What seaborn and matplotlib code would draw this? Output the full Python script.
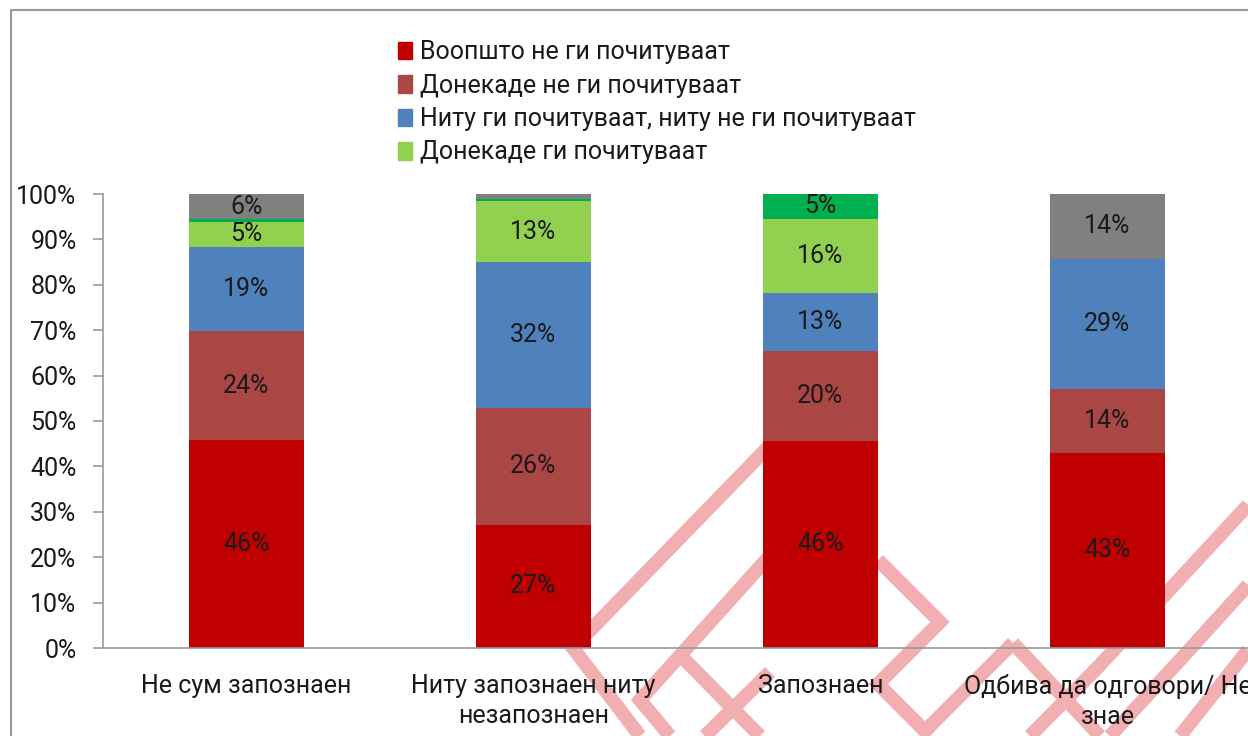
import numpy as np
import pandas as pd
import seaborn as sns
import matplotlib.pyplot as plt
from matplotlib.lines import Line2D

categories = ["Не сум запознаен", "Ниту запознаен ниту\nнезапознаен", "Запознаен", "Одбива да одговори/ Не\nзнае"]
series_names = [
    "Воопшто не ги почитуваат",
    "Донекаде не ги почитуваат",
    "Ниту ги почитуваат, ниту не ги почитуваат",
    "Донекаде ги почитуваат",
    "Целосно ги почитуваат",
    "Не знае",
]
colors = ["#C00000", "#AA4644", "#4F81BD", "#92D050", "#00B050", "#808080"]

not_at_all = [45.8, 27.1, 45.6, 43.0]
somewhat_not = [24.0, 25.8, 19.8, 14.1]
neither = [18.6, 32.1, 12.8, 28.6]
somewhat = [5.4, 13.4, 16.4, 0.0]
fully = [0.6, 0.4, 5.4, 0.0]
dont_know = [5.6, 1.2, 0.0, 14.3]
values = [not_at_all, somewhat_not, neither, somewhat, fully, dont_know]

sns.set_style("white")
plt.rcParams["font.family"] = ["Roboto", "DejaVu Sans"]
FS = 18
TXT = "#1a1a1a"

W, H = 1248, 736
fig = plt.figure(figsize=(W / 100, H / 100), dpi=100)
ax = fig.add_axes([103 / W, 1 - 648 / H, 1148 / W, 454 / H])
ax.patch.set_visible(False)

bottom = np.zeros(len(categories))
handles = []
for name, vals, col in zip(series_names, values, colors):
    df = pd.DataFrame({"cat": categories, "val": vals})
    sns.barplot(data=df, x="cat", y="val", order=categories, color=col,
                bottom=bottom, width=0.4, ax=ax, linewidth=0, saturation=1)
    cont = ax.containers[-1]
    labels = ["%.0f%%" % v if v >= 3 else "" for v in vals]
    ax.bar_label(cont, labels=labels, label_type="center", fontsize=FS, color=TXT)
    handles.append(plt.Rectangle((0, 0), 1, 1, color=col))
    bottom = bottom + np.array(vals)

ax.set_ylim(0, 100)
ax.set_xlim(-0.5, 3.5)
ax.set_yticks(np.arange(0, 101, 10))
ax.set_yticklabels(["%d%%" % t for t in range(0, 101, 10)], fontsize=FS, color=TXT)
ax.set_xticks(range(len(categories)))
ax.set_xticklabels(categories, fontsize=FS, color=TXT, linespacing=1.3)
ax.set_xticks(np.arange(-0.5, 4, 1), minor=True)
ax.tick_params(axis="x", which="major", length=0, pad=19)
ax.tick_params(axis="x", which="minor", length=7, width=1.2, color="#999999", direction="out")
ax.tick_params(axis="y", length=7, width=1.2, color="#999999", direction="out", left=True, pad=12)
ax.set_xlabel("")
ax.set_ylabel("")
for s in ["top", "right"]:
    ax.spines[s].set_visible(False)
for s in ["left", "bottom"]:
    ax.spines[s].set_color("#999999")
    ax.spines[s].set_linewidth(1.2)

fig.legend(handles[:4], series_names[:4], loc="upper left",
           bbox_to_anchor=(398 / W, 1 - 40 / H), frameon=False,
           handlelength=0.55, handleheight=0.7, handletextpad=0.35,
           labelspacing=0.38, borderaxespad=0, borderpad=0,
           prop={"size": FS}, labelcolor=TXT)

# outer frame of the original slide
fig.add_artist(Line2D([11 / W, 11 / W], [0, 1 - 10 / H], color="#999999", lw=1.5))
fig.add_artist(Line2D([11 / W, 1], [1 - 10 / H, 1 - 10 / H], color="#999999", lw=1.5))

# pink ornament watermark behind the chart (pixel coords, y from top)
ornament = [
    [(775, 440), (573, 648), (640, 736)],
    [(775, 550), (640, 700), (670, 736)],
    [(680, 655), (760, 736)],
    [(770, 672), (705, 736)],
    [(878, 560), (940, 622), (878, 684), (930, 736)],
    [(1248, 505), (1100, 665), (1030, 736)],
    [(1248, 585), (1180, 660), (1110, 736)],
    [(1013, 643), (920, 736)],
    [(1013, 643), (1100, 736)],
    [(1248, 650), (1180, 736)],
]
for pts in ornament:
    xs = [p[0] / W for p in pts]
    ys = [1 - p[1] / H for p in pts]
    fig.add_artist(Line2D(xs, ys, color="#F2AFB1", lw=10, zorder=-1,
                          solid_joinstyle="miter", solid_capstyle="butt"))

fig.savefig("out.png", dpi=100)
